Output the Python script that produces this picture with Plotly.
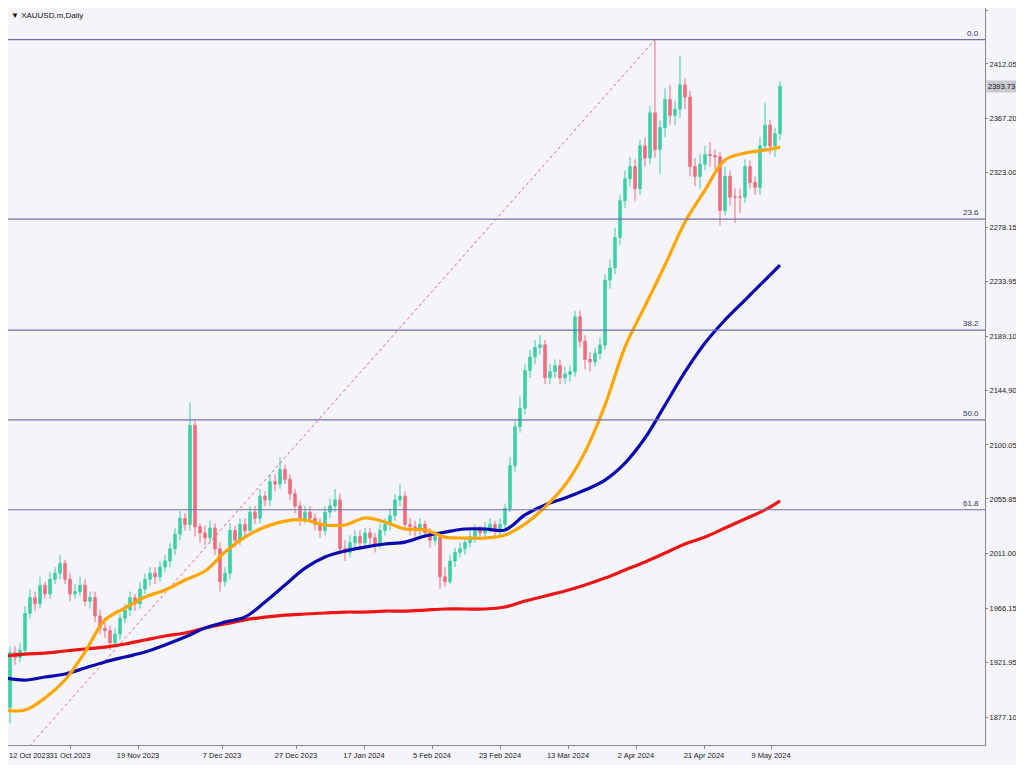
import plotly.graph_objects as go

# daily candles XAUUSD (bar index 0 = 12 Oct 2023)
opens = [1905,1885,1930,1926,1932,1962,1975,1970,1985,1978,
         1990,1995,2003,1990,1978,1980,1985,1972,1975,1960,
         1950,1948,1938,1945,1958,1965,1975,1970,1982,1990,
         1995,1992,2000,2005,2015,2027,2040,2035,2116,2033,
         2028,2024,2032,2015,1988,1995,2030,2022,2035,2030,
         2045,2040,2058,2055,2070,2068,2080,2072,2060,2050,
         2040,2045,2040,2035,2030,2045,2050,2055,2015,2012,
         2020,2025,2020,2028,2024,2018,2030,2035,2042,2055,
         2058,2035,2033,2030,2035,2028,2022,2025,1992,1988,
         2005,2012,2015,2020,2025,2030,2028,2032,2035,2030,
         2035,2048,2083,2115,2130,2161,2172,2180,2182,2155,
         2160,2165,2155,2158,2160,2205,2185,2170,2168,2175,
         2182,2235,2245,2270,2300,2318,2328,2310,2345,2335,
         2372,2342,2360,2383,2370,2375,2395,2385,2328,2320,
         2330,2338,2337,2336,2292,2320,2303,2303,2303,2328,
         2315,2311,2345,2362,2345,2355]
highs = [1910,1935,1935,1938,1968,1982,1980,1992,1988,1996,
         2000,2010,2006,1995,1986,1992,1990,1980,1980,1965,
         1955,1952,1950,1962,1970,1980,1978,1988,1995,2000,
         2000,2005,2010,2020,2032,2046,2044,2135,2120,2036,
         2034,2038,2036,2020,2000,2036,2034,2040,2040,2050,
         2050,2064,2062,2076,2076,2090,2084,2076,2064,2054,
         2050,2050,2044,2040,2050,2056,2064,2060,2022,2026,
         2030,2030,2032,2032,2028,2036,2040,2048,2060,2068,
         2062,2040,2038,2040,2038,2032,2030,2028,2000,2010,
         2016,2020,2024,2030,2035,2034,2037,2040,2038,2040,
         2052,2090,2120,2140,2166,2178,2186,2190,2186,2166,
         2170,2170,2164,2165,2210,2210,2190,2176,2180,2188,
         2240,2252,2278,2305,2325,2336,2334,2350,2352,2378,
         2432,2366,2392,2395,2382,2419,2400,2390,2335,2338,
         2345,2348,2342,2340,2328,2325,2310,2310,2334,2333,
         2320,2352,2380,2366,2360,2398]
lows = [1872,1872,1920,1922,1928,1958,1964,1966,1974,1974,
        1986,1990,1986,1972,1974,1976,1968,1966,1955,1945,
        1942,1932,1935,1940,1954,1960,1964,1966,1978,1985,
        1986,1988,1996,2000,2010,2022,2030,2030,2025,2020,
        2018,2020,2010,1980,1984,1990,2016,2018,2025,2026,
        2035,2036,2050,2050,2062,2064,2068,2055,2044,2034,
        2036,2036,2030,2024,2026,2040,2045,2010,2005,2008,
        2016,2014,2016,2018,2012,2015,2026,2030,2038,2050,
        2030,2026,2025,2026,2024,2016,2018,1982,1984,1986,
        2000,2008,2010,2016,2020,2022,2024,2028,2025,2026,
        2032,2045,2078,2110,2125,2155,2166,2174,2150,2150,
        2155,2150,2150,2152,2156,2180,2162,2160,2164,2170,
        2178,2228,2240,2264,2294,2312,2300,2305,2328,2330,
        2335,2322,2352,2362,2362,2368,2375,2320,2312,2310,
        2325,2328,2326,2280,2288,2296,2282,2290,2298,2310,
        2305,2305,2340,2338,2336,2350]
closes = [1891,1930,1926,1932,1962,1975,1970,1985,1978,1990,
          1995,2003,1990,1978,1980,1985,1972,1975,1960,1950,
          1948,1938,1945,1958,1965,1975,1970,1982,1990,1995,
          1992,2000,2005,2015,2027,2040,2035,2116,2033,2028,
          2024,2032,2015,1988,1995,2030,2022,2035,2030,2045,
          2040,2058,2055,2070,2068,2080,2072,2060,2050,2040,
          2045,2040,2035,2030,2045,2050,2055,2015,2012,2020,
          2025,2020,2028,2024,2018,2030,2035,2042,2055,2058,
          2035,2033,2030,2035,2028,2022,2025,1992,1988,2005,
          2012,2015,2020,2025,2030,2028,2032,2035,2030,2035,
          2048,2083,2115,2130,2161,2172,2180,2182,2155,2160,
          2165,2155,2158,2160,2205,2185,2170,2168,2175,2182,
          2235,2245,2270,2300,2318,2328,2310,2345,2335,2372,
          2342,2360,2383,2370,2375,2395,2385,2328,2320,2330,
          2338,2337,2336,2292,2320,2303,2303,2303,2328,2315,
          2311,2345,2362,2345,2355,2393.73]

ma_idx = list(range(0, 153, 4)) + [155]
ma_fast = [1882.9,1882.9,1892.8,1907.5,1930.4,1956.7,1966.5,1975.5,1981.2,1989.4,
           1996.8,2012.3,2024.6,2032.8,2037.7,2038.6,2034.5,2034.5,2040.2,2036.9,
           2031.2,2030.4,2024.6,2023.8,2023.8,2026.3,2035.3,2049.2,2067.2,2094.3,
           2132.7,2180.2,2213.8,2247.4,2282.6,2308.8,2333.4,2339.1,2341.6,2344.0]
ma_mid = [1909.2,1907.5,1910.0,1912.4,1917.3,1922.3,1926.4,1930.4,1936.2,1942.7,
          1950.1,1955.0,1959.1,1971.4,1985.3,1999.2,2008.3,2013.2,2016.4,2018.9,
          2020.5,2025.5,2028.7,2031.2,2031.2,2030.4,2042.7,2050.9,2056.6,2063.1,
          2071.3,2085.2,2105.7,2132.7,2159.8,2183.5,2202.4,2218.7,2235.1,2247.4]
ma_slow = [1927.2,1928.8,1929.6,1931.3,1932.9,1934.5,1937.0,1940.3,1943.6,1946.0,
           1950.1,1953.4,1956.7,1959.1,1960.7,1961.6,1962.4,1963.2,1963.2,1964.0,
           1964.0,1964.8,1965.7,1965.7,1965.7,1967.3,1972.2,1976.3,1980.4,1985.3,
           1991.0,1997.6,2004.2,2011.5,2018.9,2024.6,2032.0,2039.4,2046.8,2054.3]

# fibonacci retracement
fib_high = 2432.0
fib_low = 1809.0
fib_levels = [0.0, 23.6, 38.2, 50.0, 61.8]
fib_low_bar = -4.7
fib_high_bar = 130

price_ticks = [2456.25, 2412.05, 2367.20, 2323.00, 2278.15, 2233.95, 2189.10,
               2144.90, 2100.05, 2055.85, 2011.00, 1966.15, 1921.95, 1877.10]
date_pos = [0, 13, 26.6, 43.4, 58.2, 71.8, 85.4, 99, 112.6, 126.2, 139.8, 153.2]
date_labels = ["12 Oct 2023", "31 Oct 2023", "19 Nov 2023", "7 Dec 2023", "27 Dec 2023",
               "17 Jan 2024", "5 Feb 2024", "23 Feb 2024", "13 Mar 2024", "2 Apr 2024",
               "21 Apr 2024", "9 May 2024"]

fnt = "Liberation Sans"

fig = go.Figure()

fig.add_trace(go.Scatter(
    x=[fib_low_bar, fib_high_bar], y=[fib_low, fib_high], mode="lines",
    line=dict(color="#f06070", width=1, dash="dot"), hoverinfo="skip"))

for lv in fib_levels:
    yv = fib_high - (fib_high - fib_low) * lv / 100
    fig.add_hline(y=yv, line=dict(color="#7070b0", width=1.2))
    fig.add_annotation(x=1, xref="paper", y=yv, text="%.1f" % lv, showarrow=False,
                       xanchor="right", yanchor="bottom", xshift=-4,
                       font=dict(size=8, color="#333366", family=fnt))

fig.add_trace(go.Candlestick(
    x=list(range(len(closes))), open=opens, high=highs, low=lows, close=closes,
    increasing=dict(line=dict(color="#3ccfa5", width=1), fillcolor="#3ccfa5"),
    decreasing=dict(line=dict(color="#f26d7d", width=1), fillcolor="#f26d7d"),
    whiskerwidth=0, hoverinfo="skip"))

for vals, col in [(ma_slow, "#ee1515"), (ma_mid, "#0a0ab0"), (ma_fast, "#ffa500")]:
    fig.add_trace(go.Scatter(x=ma_idx, y=vals, mode="lines",
                             line=dict(color=col, width=3.2, shape="spline"),
                             hoverinfo="skip"))

fig.add_annotation(x=1, xref="paper", y=closes[-1], text="%.2f" % closes[-1],
                   showarrow=False, xanchor="left", xshift=1, bgcolor="#c8c8d0",
                   font=dict(size=7.5, color="#111111", family=fnt), borderpad=1)
fig.add_annotation(x=0, xref="paper", y=1, yref="paper", text="▼ XAUUSD.m,Daily",
                   showarrow=False, xanchor="left", yanchor="top", xshift=1, yshift=-1,
                   font=dict(size=8, color="#111111", family=fnt))
# first date label sits at the left edge
fig.add_annotation(x=0, xref="paper", y=0, yref="paper", text=date_labels[0],
                   showarrow=False, xanchor="left", yanchor="top", xshift=-1, yshift=-4,
                   font=dict(size=7.5, color="#222222", family=fnt))

fig.update_layout(
    width=1014, height=757,
    margin=dict(l=0, r=37, t=0, b=20),
    paper_bgcolor="#f4f4fa", plot_bgcolor="#f4f4fa",
    showlegend=False,
    font=dict(family=fnt, size=7.5, color="#222222"),
    xaxis=dict(range=[0.6, 196], tickvals=date_pos[1:], ticktext=date_labels[1:],
               showgrid=False, zeroline=False, rangeslider=dict(visible=False),
               showline=True, linecolor="#888888", mirror=True, automargin=False,
               ticks="outside", ticklen=3, tickcolor="#888888"),
    yaxis=dict(side="right", range=[1854.3, 2457.9], tickvals=price_ticks,
               ticktext=["%.2f" % v for v in price_ticks], showgrid=False,
               zeroline=False, showline=True, linecolor="#888888", mirror=True,
               automargin=False, ticks="outside", ticklen=2, tickcolor="#888888"),
)

fig.write_html("out.html")
